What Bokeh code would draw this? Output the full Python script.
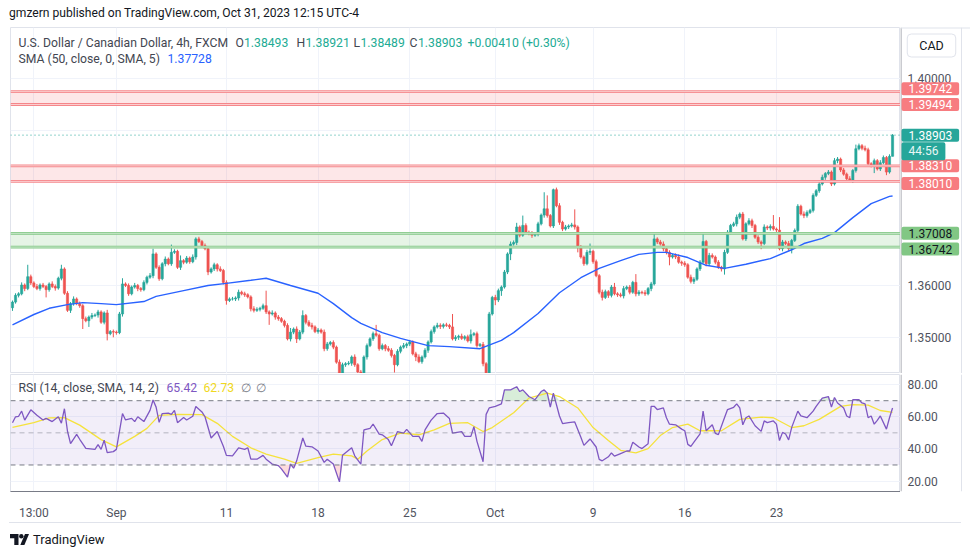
from bokeh.plotting import figure
from bokeh.models import Range1d, FixedTicker, BoxAnnotation, Span, Label, Div
from bokeh.layouts import column, row
from bokeh.core.properties import value
from bokeh.embed import file_html
from bokeh.resources import INLINE

FONT = "Roboto"
UP = "#26a69a"
DOWN = "#ef5350"
PIP = 0.0001

# ---------------- data ----------------
first_open = 1.3557
closes = [
    1.3568, 1.3581, 1.3584, 1.3601, 1.3594, 1.3617, 1.3605, 1.3598, 1.3594, 1.3601, 1.3598, 1.3592,
    1.3603, 1.3598, 1.3595, 1.3614, 1.3632, 1.3585, 1.3552, 1.3565, 1.3574, 1.3565, 1.3561, 1.3536,
    1.3532, 1.3539, 1.3542, 1.3543, 1.3549, 1.3529, 1.3547, 1.3507, 1.3511, 1.3510, 1.3509, 1.3545,
    1.3603, 1.3600, 1.3584, 1.3597, 1.3600, 1.3594, 1.3592, 1.3606, 1.3616, 1.3619, 1.3661, 1.3635,
    1.3613, 1.3642, 1.3651, 1.3642, 1.3664, 1.3666, 1.3635, 1.3648, 1.3645, 1.3653, 1.3646, 1.3655,
    1.3690, 1.3685, 1.3677, 1.3671, 1.3626, 1.3632, 1.3640, 1.3632, 1.3629, 1.3606, 1.3571, 1.3574,
    1.3574, 1.3576, 1.3587, 1.3584, 1.3582, 1.3578, 1.3555, 1.3552, 1.3554, 1.3556, 1.3561, 1.3549,
    1.3545, 1.3547, 1.3539, 1.3536, 1.3531, 1.3523, 1.3497, 1.3510, 1.3516, 1.3497, 1.3510, 1.3542,
    1.3529, 1.3523, 1.3520, 1.3511, 1.3514, 1.3510, 1.3478, 1.3487, 1.3490, 1.3481, 1.3452, 1.3431,
    1.3447, 1.3449, 1.3450, 1.3462, 1.3447, 1.3433, 1.3431, 1.3462, 1.3484, 1.3497, 1.3507, 1.3504,
    1.3478, 1.3484, 1.3478, 1.3475, 1.3465, 1.3447, 1.3473, 1.3481, 1.3484, 1.3487, 1.3491, 1.3468,
    1.3462, 1.3453, 1.3462, 1.3475, 1.3491, 1.3511, 1.3520, 1.3523, 1.3521, 1.3524, 1.3523, 1.3520,
    1.3497,
    1.3500, 1.3502, 1.3498, 1.3501, 1.3493, 1.3505, 1.3507, 1.3484, 1.3486, 1.3449, 1.3430, 1.3545,
    1.3577, 1.3572, 1.3590, 1.3597, 1.3626, 1.3661, 1.3680, 1.3683, 1.3713, 1.3697, 1.3716, 1.3703,
    1.3700, 1.3697, 1.3699, 1.3719, 1.3736, 1.3748, 1.3735, 1.3715, 1.3785, 1.3754, 1.3722, 1.3709,
    1.3713, 1.3715, 1.3717, 1.3713, 1.3674, 1.3655, 1.3642, 1.3664, 1.3666, 1.3646, 1.3619, 1.3587,
    1.3577, 1.3588, 1.3581, 1.3597, 1.3584, 1.3582, 1.3580, 1.3594, 1.3597, 1.3587, 1.3606, 1.3584,
    1.3587, 1.3586, 1.3584, 1.3594, 1.3603, 1.3690, 1.3684, 1.3680, 1.3671, 1.3664, 1.3655, 1.3658,
    1.3655, 1.3645, 1.3643, 1.3640, 1.3616, 1.3608, 1.3612, 1.3632, 1.3645, 1.3685, 1.3642, 1.3658,
    1.3655, 1.3645, 1.3635, 1.3632, 1.3664, 1.3703, 1.3716, 1.3719, 1.3732, 1.3738, 1.3690, 1.3719,
    1.3725, 1.3716, 1.3693, 1.3684, 1.3681, 1.3713, 1.3711, 1.3714, 1.3709, 1.3707, 1.3671, 1.3684,
    1.3681, 1.3671, 1.3687, 1.3706, 1.3753, 1.3738, 1.3735, 1.3741, 1.3745, 1.3774, 1.3783, 1.3796,
    1.3809, 1.3816, 1.3819, 1.3796, 1.3841, 1.3844, 1.3823, 1.3815, 1.3806, 1.3803, 1.3822, 1.3864,
    1.3870, 1.3865, 1.3862, 1.3835, 1.3832, 1.3841, 1.3825, 1.3837, 1.3847, 1.3819, 1.38493, 1.38903,
]
# wick lengths beyond the body, in pips
wick_up = [
    3, 4, 3, 5, 3, 23, 4, 3, 5, 3, 4, 3, 3, 5, 4, 3, 8, 3, 4, 3, 5, 3, 4, 3,
    4, 3, 5, 3, 4, 3, 3, 6, 3, 4, 3, 4, 11, 3, 4, 3, 5, 3, 3, 4, 3, 5, 10, 3,
    4, 3, 5, 3, 15, 4, 3, 10, 3, 4, 3, 5, 3, 4, 3, 4, 5, 3, 4, 3, 5, 3, 4, 3,
    4, 3, 5, 3, 4, 3, 3, 5, 4, 3, 4, 29, 3, 5, 3, 4, 3, 3, 4, 8, 3, 5, 4, 10,
    3, 4, 5, 3, 4, 3, 5, 4, 3, 4, 3, 5, 4, 3, 4, 3, 5, 3, 4, 3, 4, 3, 4, 17,
    3, 4, 3, 5, 4, 3, 4, 3, 5, 3, 4, 3, 4, 5, 3, 4, 3, 4, 3, 5, 4, 3, 4, 3,
    25, 4, 3, 5, 3, 4, 10, 3, 4, 3, 5, 3, 4, 3, 5, 4, 3, 4, 3, 5, 4, 8, 3, 19,
    4, 3, 5, 3, 4, 3, 32, 26, 3, 2, 4, 5, 3, 4, 3, 4, 30, 3, 4, 3, 5, 15, 3, 4,
    3, 5, 4, 3, 4, 8, 3, 4, 5, 3, 4, 3, 16, 4, 3, 5, 3, 4, 12, 3, 4, 5, 3, 4,
    3, 4, 5, 3, 4, 3, 5, 4, 3, 4, 18, 3, 5, 4, 3, 4, 3, 5, 4, 3, 4, 5, 3, 4,
    3, 5, 4, 3, 4, 3, 5, 3, 4, 22, 3, 25, 4, 3, 5, 3, 4, 4, 3, 5, 4, 3, 4, 3,
    4, 5, 3, 4, 3, 5, 4, 3, 4, 3, 5, 3, 8, 4, 3, 5, 4, 3, 4, 3, 5, 4, 3, 4,
    2,
]
wick_dn = [
    6, 3, 4, 3, 5, 3, 4, 3, 3, 4, 3, 15, 4, 3, 5, 3, 4, 3, 3, 5, 4, 3, 4, 20,
    3, 12, 4, 3, 5, 3, 4, 13, 3, 10, 4, 3, 5, 3, 4, 3, 3, 5, 4, 3, 4, 3, 5, 3,
    4, 3, 5, 3, 4, 3, 3, 5, 4, 3, 4, 3, 5, 3, 4, 3, 6, 3, 4, 5, 3, 4, 8, 3,
    3, 4, 5, 3, 4, 3, 5, 4, 3, 4, 3, 4, 21, 3, 5, 4, 3, 4, 3, 5, 4, 8, 3, 4,
    4, 3, 5, 3, 4, 3, 5, 4, 3, 4, 3, 5, 3, 4, 3, 5, 4, 3, 4, 3, 5, 3, 4, 3,
    4, 3, 5, 3, 4, 15, 3, 4, 3, 5, 4, 3, 8, 3, 4, 3, 5, 3, 4, 3, 5, 4, 3, 4,
    3, 4, 5, 3, 4, 3, 5, 3, 4, 3, 5, 4, 0, 3, 10, 4, 10, 3, 4, 12, 3, 5, 4, 3,
    4, 3, 5, 3, 4, 3, 5, 4, 3, 4, 3, 5, 4, 3, 4, 3, 5, 10, 3, 4, 3, 5, 4, 3,
    4, 6, 3, 5, 4, 3, 4, 3, 5, 3, 4, 3, 5, 4, 3, 4, 3, 5, 3, 4, 3, 5, 4, 16,
    3, 4, 3, 5, 4, 3, 4, 5, 3, 4, 3, 5, 4, 3, 4, 3, 5, 11, 3, 4, 3, 5, 4, 3,
    4, 3, 5, 3, 4, 11, 3, 4, 5, 3, 4, 3, 5, 3, 4, 9, 3, 4, 3, 5, 4, 3, 4, 3,
    4, 3, 5, 3, 4, 3, 5, 4, 3, 4, 3, 5, 4, 3, 4, 3, 5, 4, 15, 3, 4, 3, 6, 3,
    0,
]

sma_idx = [0, 7, 12, 18, 23, 29, 34, 43, 47, 56, 64, 70, 78, 83, 91, 100, 105, 111, 114, 121,
           127, 136, 143, 153, 160, 164, 172, 179, 186, 192, 199, 205, 211, 214, 221, 227, 233,
           240, 248, 255, 259, 265, 269, 275, 281, 287, 288]
sma_val = [1.3524, 1.3544, 1.3556, 1.3563, 1.3567, 1.3565, 1.3563, 1.3569, 1.3579, 1.3590,
           1.3600, 1.3604, 1.3610, 1.3614, 1.3600, 1.3585, 1.3565, 1.3538, 1.3527, 1.3509,
           1.3498, 1.3484, 1.3482, 1.3478, 1.3494, 1.3509, 1.3546, 1.3586, 1.3615, 1.3633,
           1.3648, 1.3660, 1.3664, 1.3664, 1.3654, 1.3639, 1.3633, 1.3641, 1.3652, 1.3669,
           1.3681, 1.3691, 1.3702, 1.3731, 1.3758, 1.3772, 1.37728]

rsi_idx = [0, 1, 2, 3, 4, 6, 8, 10, 11, 13, 15, 16, 17, 18, 19, 21, 22, 24, 27, 28, 29, 30, 31, 33,
           34, 36, 37, 39, 40, 41, 43, 45, 46, 47, 48, 49, 51, 52, 53, 54, 56, 57, 59, 60, 62, 63,
           65, 66, 67, 69, 70, 72, 74, 76, 77, 78, 80, 82, 83, 85, 87, 88, 90, 91, 92, 93, 95, 96,
           98, 100, 102, 103, 105, 107, 108, 111, 112, 114, 115, 117, 118, 120, 121, 123, 124, 126,
           128, 129, 131, 133, 134, 135, 137, 139, 141, 143, 144, 147, 148, 150, 151, 152,
           154, 155, 156, 158, 160, 161, 163, 165, 166, 167, 169, 171, 173, 174, 175, 176, 177,
           179, 180, 182, 184, 186, 187, 189, 191, 192, 193, 195, 196, 197, 199, 201, 202, 203,
           205, 206, 208, 209, 210, 211, 213, 214, 215, 217, 219, 220, 221, 222, 223, 225, 226,
           227, 229, 230, 231, 233, 234, 236, 237, 238, 239, 240, 241, 243, 245, 246, 247, 249,
           250, 251, 252, 253, 254, 255, 257, 258, 260, 262, 263, 265, 267, 268, 269, 270, 272,
           273, 274, 275, 277, 278, 279, 280, 281, 282, 283, 284, 286, 287, 288]
rsi_val = [56.3, 60, 60.3, 63.5, 57.9, 64.3, 61, 58, 59, 57, 60, 56, 65, 51, 43.3, 49, 46, 40.3,
           39.7, 42.7, 39.7, 45.4, 37.7, 38.3, 39.7, 62, 58, 59, 57, 60, 57, 64, 70.4, 66, 56.5, 62,
           62.3, 61.5, 64, 56.3, 59.5, 58, 60.3, 66.4, 63, 60, 46.8, 48.8, 50.8, 41.7, 36, 35.7,
           40.7, 39.7, 40.7, 33.6, 33.6, 36, 33.6, 30.6, 29.6, 27.6, 22.5, 30.6, 28, 32.6, 46.8,
           41.7, 41.3, 38.7, 31.6, 33.6, 30.6, 19.5, 36, 40.7, 35.7, 30.6, 51.8, 52.8, 55.5, 49.2,
           48.8, 45.8, 42, 50.8, 49.8, 52.2, 47.8, 47.8, 44.7, 51.8, 57.9, 62, 62.3, 58.9, 49.8,
           50.8, 47.8, 47.8, 53.8, 44.7,
           32, 61.5, 65.5, 66.5, 68, 76.7, 76.7, 78.7, 75.7, 76.7, 72.6, 70.6, 75.7, 76.7, 74.7,
           66, 74.7, 60.5, 55.8, 56.4, 56.8, 47.3, 42.2, 46.2, 41.2, 33.5, 32.6, 35.1, 37.5, 35.5,
           37.1, 38.7, 38.7, 44.2, 41.2, 40.2, 43.2, 66.5, 66.5, 64.5, 65.5, 59.4, 55.4, 55, 52.3,
           51.3, 42.8, 41.6, 44.2, 49.3, 63.5, 51.3, 55, 49.7, 48.9, 59.4, 64.5, 65.9, 68, 65.5,
           55, 59.4, 60.5, 54.4, 50.9, 57.4, 56.4, 57.4, 55.4, 45.2, 50.3, 49.3, 45.6, 53.4, 63.5,
           60.5, 59.4, 63.5, 66.5, 71.6, 72.6, 66, 72, 68.6, 65.5, 60.5, 59.4, 70.6, 70.6, 68.6,
           68, 59.4, 60.5, 55.4, 57.8, 60.5, 52.3, 59.4, 65.42]

rsima_idx = [0, 7, 12, 17, 22, 29, 34, 40, 44, 48, 54, 62, 67, 72, 78, 83, 89, 93, 100, 105, 111,
             113, 116, 121, 127, 133, 138, 143, 149, 154, 157, 164, 169, 175, 179, 185, 190, 195,
             199, 204, 208, 212, 216, 221, 225, 232, 238, 245, 249, 255, 259, 264, 271, 275, 280,
             284, 288]
rsima_val = [53.4, 56.3, 59.3, 59.5, 54.8, 45.8, 41.3, 47.8, 52.8, 60.9, 61.5, 61.3, 55.9, 47.8,
             40.7, 36.7, 33.6, 31, 34.6, 36.7, 35.7, 33.6, 38.7, 45.8, 49.8, 48.8, 51.8, 55.9, 56.3,
             50.8, 53.3, 62.5, 71.6, 74.7, 72.6, 65.5, 53.3, 45.2, 39.1, 37.5, 40.2, 48.3, 53.3,
             55.4, 51.3, 51.3, 58.4, 59.8, 59.4, 53.3, 54.4, 58.4, 66.5, 67.6, 67.2, 63.9, 62.73]

tick_idx = [7, 34, 70, 100, 130, 158, 190, 220, 250]
tick_labels = ["13:00", "Sep", "11", "18", "25", "Oct", "9", "16", "23"]
price_ticks = [1.35, 1.36, 1.37, 1.38, 1.39, 1.40]
price_label_ticks = [1.35, 1.36, 1.40]
rsi_ticks = [20, 40, 60, 80]
rsi_upper, rsi_mid, rsi_lower = 70, 50, 30
red_zones = [(1.39494, 1.39742), (1.38010, 1.38310)]
green_zones = [(1.36742, 1.37008)]
last_close = 1.38903
countdown = "44:56"
ohlc_names = ["O", "H", "L", "C"]
ohlc_values = ["1.38493", "1.38921", "1.38489", "1.38903"]
change_text = "+0.00410 (+0.30%)"
sma_last = "1.37728"
rsi_last = "65.42"
rsima_last = "62.73"
header_text = "gmzern published on TradingView.com, Oct 31, 2023 12:15 UTC-4"

# ---------------- derived candle geometry ----------------
n = len(closes)
xs = list(range(n))
opens = [first_open] + closes[:-1]
tops = [max(o, c) for o, c in zip(opens, closes)]
bots = [min(o, c) for o, c in zip(opens, closes)]
highs = [t + (wick_up[i] if i < len(wick_up) else 0) * PIP for i, t in enumerate(tops)]
lows = [b - (wick_dn[i] if i < len(wick_dn) else 0) * PIP for i, b in enumerate(bots)]
cols = [UP if c >= o else DOWN for o, c in zip(opens, closes)]

xr = Range1d(-0.65, 290.6)
yr_price = Range1d(1.34301, 1.40981)
yr_rsi = Range1d(13.5, 86.3)
GRID = "#f0f3fa"
AXIS_TXT = "#50535e"
SEP = "#9598a1"
LEG = "#434651"
LEG_SIZE = "12.2px"


def lab(fig, x, y, text, color, size=LEG_SIZE, **kw):
    fig.add_layout(Label(x=x, y=y, x_units="screen", y_units="screen", text=text,
                         text_color=color, text_font=FONT, text_font_size=size,
                         text_baseline="middle", **kw))


def base_fig(width, height, y_range, x_range, **kw):
    f = figure(width=width, height=height, x_range=x_range, y_range=y_range,
               output_backend="svg", toolbar_location=None, title=None, margin=0, **kw)
    f.background_fill_color = "white"
    f.border_fill_color = "white"
    return f


# ---------------- price pane ----------------
p = base_fig(900, 347, yr_price, xr, x_axis_location=None, y_axis_location=None,
             min_border_left=10, min_border_right=0, min_border_top=1, min_border_bottom=0)
p.outline_line_color = "#e0e3eb"
p.xgrid.ticker = FixedTicker(ticks=tick_idx)
p.ygrid.ticker = FixedTicker(ticks=price_ticks)
p.grid.grid_line_color = GRID

for lo, hi in red_zones:
    p.add_layout(BoxAnnotation(bottom=lo, top=hi, fill_color="#f23645", fill_alpha=0.12,
                               line_color=None, level="underlay"))
    for lv in (lo, hi):
        p.add_layout(Span(location=lv, dimension="width", line_color="#f5868a", line_width=2.8))
        p.add_layout(Span(location=lv, dimension="width", line_color="#fde2e3", line_width=0.8))
for lo, hi in green_zones:
    p.add_layout(BoxAnnotation(bottom=lo, top=hi, fill_color="#4caf50", fill_alpha=0.14,
                               line_color=None, level="underlay"))
    for lv in (lo, hi):
        p.add_layout(Span(location=lv, dimension="width", line_color="#81c784", line_width=2.8))
        p.add_layout(Span(location=lv, dimension="width", line_color="#e3f3e4", line_width=0.8))

p.add_layout(Span(location=last_close, dimension="width", line_color=UP, line_width=1,
                  line_dash="1 3"))

p.segment(x0=xs, y0=lows, x1=xs, y1=highs, line_color=cols, line_width=1)
p.vbar(x=xs, width=0.72, top=tops, bottom=bots, fill_color=cols, line_color=cols, line_width=0.6)
p.line(sma_idx, sma_val, line_color="#2962ff", line_width=1.4)

# legend (screen coords relative to the price frame: left = page x 10, bottom = page y 373)
lab(p, 8, 331, "U.S. Dollar / Canadian Dollar, 4h, FXCM", LEG)
leg_x = [225, 286, 343, 399]
leg_gap = [8.5, 9, 7, 8.5]
for k in range(4):
    lab(p, leg_x[k], 331, ohlc_names[k], LEG)
    lab(p, leg_x[k] + leg_gap[k], 331, ohlc_values[k], "#22ab94")
lab(p, 457, 331, change_text, "#22ab94")
lab(p, 8, 315, "SMA (50, close, 0, SMA, 5)", LEG)
lab(p, 157, 315, sma_last, "#2962ff")

# price scale column (shares the price y-range)
ps = base_fig(70, 347, yr_price, Range1d(0, 70), x_axis_location=None, y_axis_location=None,
              min_border_left=0, min_border_right=0, min_border_top=1, min_border_bottom=0)
ps.outline_line_color = None
ps.grid.visible = False
ps.add_layout(Span(location=0.5, dimension="height", line_color=SEP, line_width=1))
ps.add_layout(Span(location=61, dimension="height", line_color="#e0e3eb", line_width=1))
ps.add_layout(Span(location=yr_price.end, dimension="width", line_color="#e0e3eb", line_width=2))
ps.text(x=[7] * len(price_label_ticks), y=price_label_ticks,
        text=["%.5f" % t for t in price_label_ticks], text_font=value(FONT),
        text_font_size="12px", text_color=AXIS_TXT, text_baseline="middle", text_align="left")

tag_specs = [(red_zones[0][1], "#f77c80", "white", 3), (red_zones[0][0], "#f77c80", "white", 0),
             (red_zones[1][1], "#f77c80", "white", 0), (red_zones[1][0], "#f77c80", "white", -2),
             (green_zones[0][1], "#81c784", "#131722", 0), (green_zones[0][0], "#81c784", "#131722", -2)]
for lv, bg, fg, off in tag_specs:
    ps.add_layout(Label(x=1, y=lv, x_units="screen", y_units="data", y_offset=off,
                        text="%.5f" % lv, text_color=fg, text_font=FONT, text_font_size="12px",
                        text_baseline="middle", background_fill_color=bg, padding=(7, 2),
                        border_radius=2))
ps.add_layout(Label(x=1, y=last_close, x_units="screen", y_units="data", y_offset=-16,
                    text=countdown, text_color="#e8f6f4", text_font=FONT, text_font_size="12px",
                    text_baseline="middle", background_fill_color=UP, padding=(7, 2),
                    border_radius=2))
ps.add_layout(Label(x=1, y=last_close, x_units="screen", y_units="data",
                    text="%.5f" % last_close, text_color="white", text_font=FONT,
                    text_font_size="12px", text_baseline="middle", background_fill_color=UP,
                    padding=(7, 2), border_radius=2))
lab(ps, 31, 328, "CAD", "#131722", "12.5px", text_align="center",
    border_line_color="#e0e3eb", border_radius=4, padding=(12, 4),
    background_fill_color="white")

# ---------------- RSI pane ----------------
q = base_fig(900, 149, yr_rsi, xr, y_axis_location=None,
             min_border_left=10, min_border_right=0, min_border_top=1, min_border_bottom=29)
q.outline_line_color = "#e0e3eb"
q.xgrid.ticker = FixedTicker(ticks=tick_idx)
q.ygrid.ticker = FixedTicker(ticks=rsi_ticks)
q.grid.grid_line_color = GRID
xa = q.xaxis[0]
xa.ticker = FixedTicker(ticks=tick_idx)
xa.major_label_overrides = {t: s for t, s in zip(tick_idx, tick_labels)}
xa.axis_line_color = "#787b86"
xa.major_tick_line_color = None
xa.minor_tick_line_color = None
xa.major_label_standoff = 8
xa.major_label_text_font = FONT
xa.major_label_text_font_size = "12px"
xa.major_label_text_color = AXIS_TXT

q.add_layout(BoxAnnotation(bottom=rsi_lower, top=rsi_upper, fill_color="#7e57c2", fill_alpha=0.1,
                           line_color=None, level="underlay"))
for lv, alpha in ((rsi_upper, 1.0), (rsi_mid, 0.5), (rsi_lower, 1.0)):
    q.add_layout(Span(location=lv, dimension="width", line_color="#787b86",
                      line_alpha=alpha, line_width=1, line_dash="5 4"))
m = min(len(rsi_idx), len(rsi_val))
r_x, r_y = rsi_idx[:m], rsi_val[:m]
# overbought / oversold shading between the RSI line and its bands
q.varea(x=r_x, y1=[rsi_upper] * m, y2=[max(v, rsi_upper) for v in r_y],
        fill_color="#4caf50", fill_alpha=0.22)
q.varea(x=r_x, y1=[min(v, rsi_lower) for v in r_y], y2=[rsi_lower] * m,
        fill_color="#f23645", fill_alpha=0.18)
q.line(rsima_idx, rsima_val, line_color="#f5e23c", line_width=1.3)
q.line(r_x, r_y, line_color="#7e57c2", line_width=1.3)

lab(q, 8, 104, "RSI (14, close, SMA, 14, 2)", LEG)
lab(q, 156, 104, rsi_last, "#7e57c2")
lab(q, 193, 104, rsima_last, "#f0d820")
lab(q, 230, 104, "\u2205", "#787b86")
lab(q, 245, 104, "\u2205", "#787b86")

qs = base_fig(70, 149, yr_rsi, Range1d(0, 70), x_axis_location=None, y_axis_location=None,
              min_border_left=0, min_border_right=0, min_border_top=1, min_border_bottom=29)
qs.outline_line_color = None
qs.grid.visible = False
qs.add_layout(Span(location=0.5, dimension="height", line_color=SEP, line_width=1))
qs.add_layout(Span(location=61, dimension="height", line_color="#e0e3eb", line_width=1))
qs.text(x=[7] * len(rsi_ticks), y=rsi_ticks, text=["%.2f" % t for t in rsi_ticks],
        text_font=value(FONT), text_font_size="12px", text_color=AXIS_TXT,
        text_baseline="middle", text_align="left")

# ---------------- header / footer ----------------
header = Div(text=('<div style="font-family:Roboto;font-size:12.1px;color:#131722;'
                   'line-height:26px;padding-left:9px;white-space:nowrap;">%s</div>' % header_text),
             width=970, height=26, margin=0)
logo = ('<svg width="19" height="11" viewBox="0 0 19 11" style="vertical-align:-1px;margin-right:4px">'
        '<path d="M0 0h8.5v11h-4.2v-6.8H0z" fill="#131722"/>'
        '<circle cx="11.3" cy="2.2" r="2.2" fill="#131722"/>'
        '<path d="M15 0h4l-4.6 11h-4.1z" fill="#131722"/></svg>')
footer = Div(text=('<div style="margin-left:9px;width:952px;height:0;border-top:1px solid #e0e3eb;"></div>'
                   '<div style="font-family:Roboto;font-size:13px;color:#131722;'
                   'line-height:34px;padding-left:10px;white-space:nowrap;">%sTradingView</div>' % logo),
             width=970, height=35, margin=0)

layout = column(header, row(p, ps, spacing=0), row(q, qs, spacing=0), footer, spacing=0)
open("out.html", "w").write(file_html(layout, INLINE))
